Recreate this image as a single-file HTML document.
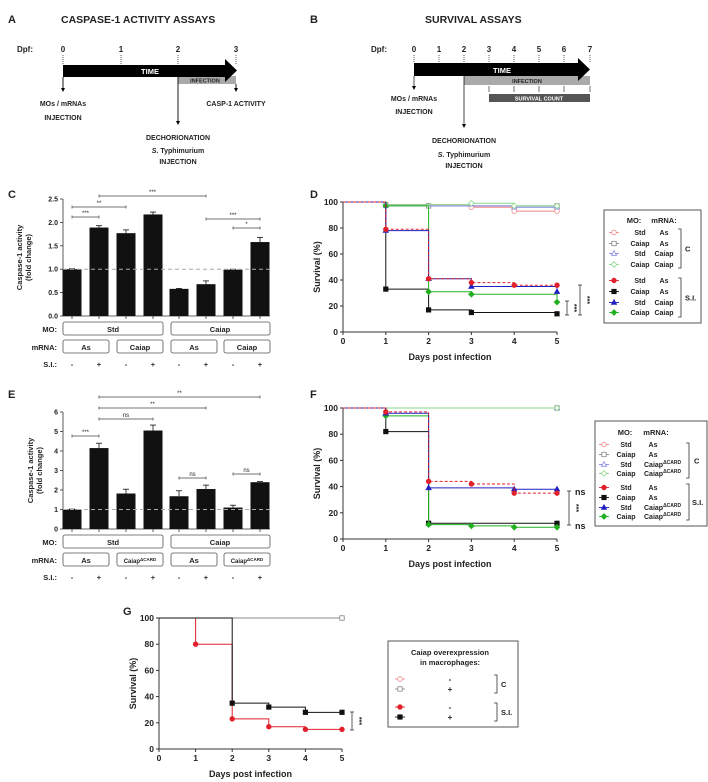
<!DOCTYPE html>
<html><head><meta charset="utf-8"><style>
body{margin:0;background:#fff;}
svg{display:block;font-family:"Liberation Sans",Arial,sans-serif;}
text{fill:#222;}
</style></head><body>
<svg id="fig" width="708" height="782" viewBox="0 0 708 782" xmlns="http://www.w3.org/2000/svg">
<g font-weight="bold">
<text x="8" y="23" font-size="11">A</text>
<text x="61" y="23" font-size="10.5">CASPASE-1 ACTIVITY ASSAYS</text>
<text x="17" y="52" font-size="8">Dpf:</text>
<g font-size="8" text-anchor="middle">
<text x="63" y="52">0</text><text x="121" y="52">1</text><text x="178" y="52">2</text><text x="236" y="52">3</text></g>
<g stroke="#333" stroke-dasharray="1,1" stroke-width="0.8"><line x1="63" y1="55" x2="63" y2="65"/><line x1="121" y1="55" x2="121" y2="65"/><line x1="178" y1="55" x2="178" y2="65"/><line x1="236" y1="55" x2="236" y2="65"/></g>
<rect x="178" y="76" width="58" height="8" fill="#aaa"/>
<text x="205" y="82.5" font-size="5.5" text-anchor="middle">INFECTION</text>
<polygon points="63,65 225,65 225,59 237,70.5 225,82 225,77 63,77" fill="#000"/>
<text x="150" y="74" font-size="7.5" text-anchor="middle" style="fill:#fff">TIME</text>
<g stroke="#000" stroke-width="0.9"><line x1="63" y1="77" x2="63" y2="90"/><line x1="178" y1="77" x2="178" y2="122"/><line x1="236" y1="84" x2="236" y2="90"/></g>
<g fill="#000"><polygon points="61,88 65,88 63,92"/><polygon points="176,121 180,121 178,125"/><polygon points="234,88 238,88 236,92"/></g>
<g font-size="7" text-anchor="middle">
<text x="63" y="106">MOs / mRNAs</text><text x="63" y="120">INJECTION</text>
<text x="236" y="106">CASP-1 ACTIVITY</text>
<text x="178" y="140">DECHORIONATION</text><text x="178" y="153"><tspan font-style="italic">S.</tspan> Typhimurium</text><text x="178" y="164">INJECTION</text></g>
</g>
<g font-weight="bold">
<text x="310" y="23" font-size="11">B</text>
<text x="425" y="23" font-size="10.5">SURVIVAL  ASSAYS</text>
<text x="371" y="52" font-size="8">Dpf:</text>
<g font-size="8" text-anchor="middle">
<text x="414" y="52">0</text><text x="439" y="52">1</text><text x="464" y="52">2</text><text x="489" y="52">3</text><text x="514" y="52">4</text><text x="539" y="52">5</text><text x="564" y="52">6</text><text x="590" y="52">7</text></g>
<g stroke="#333" stroke-dasharray="1,1" stroke-width="0.8"><line x1="414" y1="55" x2="414" y2="63"/><line x1="439" y1="55" x2="439" y2="63"/><line x1="464" y1="55" x2="464" y2="63"/><line x1="489" y1="55" x2="489" y2="63"/><line x1="514" y1="55" x2="514" y2="63"/><line x1="539" y1="55" x2="539" y2="63"/><line x1="564" y1="55" x2="564" y2="63"/><line x1="590" y1="55" x2="590" y2="63"/></g>
<rect x="464" y="76" width="126" height="9" fill="#aaa"/>
<text x="527" y="83" font-size="5.5" text-anchor="middle">INFECTION</text>
<polygon points="414,63 578,63 578,58 590,69.5 578,81 578,76 414,76" fill="#000"/>
<text x="502" y="73" font-size="7.5" text-anchor="middle" style="fill:#fff">TIME</text>
<rect x="489" y="94" width="101" height="8" fill="#555"/>
<text x="539" y="100.5" font-size="5.5" text-anchor="middle" style="fill:#fff">SURVIVAL  COUNT</text>
<g stroke="#333" stroke-width="0.7"><line x1="489" y1="86" x2="489" y2="92"/><line x1="514" y1="86" x2="514" y2="92"/><line x1="539" y1="86" x2="539" y2="92"/><line x1="564" y1="86" x2="564" y2="92"/><line x1="590" y1="86" x2="590" y2="92"/>
<line x1="414" y1="76" x2="414" y2="87" stroke="#000"/><line x1="464" y1="76" x2="464" y2="125" stroke="#000"/></g>
<g fill="#000"><polygon points="412,86 416,86 414,90"/><polygon points="462,124 466,124 464,128"/></g>
<g font-size="7" text-anchor="middle">
<text x="414" y="101">MOs / mRNAs</text><text x="414" y="114">INJECTION</text>
<text x="464" y="143">DECHORIONATION</text><text x="464" y="157"><tspan font-style="italic">S.</tspan> Typhimurium</text><text x="464" y="168">INJECTION</text></g>
</g>
<g id="dyn"></g>
</svg>
<script>
var cCategories = ["Std As -", "Std As +", "Std Caiap -", "Std Caiap +", "Caiap As -", "Caiap As +", "Caiap Caiap -", "Caiap Caiap +"];
var cValues = [1.0, 1.89, 1.77, 2.17, 0.58, 0.68, 0.99, 1.58];
var cErrors = [0.01, 0.04, 0.07, 0.05, 0.01, 0.07, 0.01, 0.1];
var cTicks = ["0.0", "0.5", "1.0", "1.5", "2.0", "2.5"];
var cTickValues = [0, 0.5, 1, 1.5, 2, 2.5];
var cMRNA = ["As", "Caiap", "As", "Caiap"];
var eValues = [1.0, 4.15, 1.82, 5.05, 1.68, 2.05, 1.1, 2.4];
var eErrors = [0.02, 0.25, 0.22, 0.28, 0.28, 0.2, 0.12, 0.03];
var eTicks = ["0", "1", "2", "3", "4", "5", "6"];
var eTickValues = [0, 1, 2, 3, 4, 5, 6];
var survDays = [0, 1, 2, 3, 4, 5];
var survTicks = ["0", "20", "40", "60", "80", "100"];
var survTickValues = [0, 20, 40, 60, 80, 100];
var dStdAsC = [100, 98, 97, 96, 93, 93];
var dCaiapAsC = [100, 98, 97, 97, 97, 97];
var dStdCaiapC = [100, 97, 97, 97, 96, 96];
var dCaiapCaiapC = [100, 98, 98, 99, 97, 97];
var dStdAsSI = [100, 79, 41, 38, 36, 36];
var dCaiapAsSI = [100, 33, 17, 15, 15, 14];
var dStdCaiapSI = [100, 78, 41, 35, 35, 31];
var dCaiapCaiapSI = [100, 97, 31, 29, 29, 23];
var fStdAsC = [100, 100, 100, 100, 100, 100];
var fCaiapAsC = [100, 100, 100, 100, 100, 100];
var fStdDcC = [100, 100, 100, 100, 100, 100];
var fCaiapDcC = [100, 100, 100, 100, 100, 100];
var fStdAsSI = [100, 97, 44, 42, 35, 35];
var fCaiapAsSI = [100, 82, 12, 12, 12, 12];
var fStdDcSI = [100, 96, 39, 39, 38, 38];
var fCaiapDcSI = [100, 94, 11, 10, 9, 9];
var gMinusC = [100, 100, 100, 100, 100, 100];
var gPlusC = [100, 100, 100, 100, 100, 100];
var gMinusSI = [100, 80, 23, 17, 15, 15];
var gPlusSI = [100, 100, 35, 32, 28, 28];

var NS = "http://www.w3.org/2000/svg";
var root = document.getElementById("dyn");
function mk(tag, attrs, name, parent) {
  var e = document.createElementNS(NS, tag);
  for (var k in attrs) e.setAttribute(k, attrs[k]);
  
  
  (parent || root).appendChild(e);
  return e;
}
function txt(x, y, s, size, name, extra) {
  var a = {x: x, y: y, "font-size": size, "font-weight": "bold"};
  for (var k in (extra || {})) a[k] = extra[k];
  var t = mk("text", a, name);
  t.textContent = s;
  return t;
}
var barX = [72, 99, 126, 153, 179, 206, 233, 260];

function barChart(opt) {
  var y0 = opt.y0, yTop = opt.yTop, vmax = opt.vmax;
  function yS(v) { return y0 - (v / vmax) * (y0 - yTop); }
  mk("line", {x1: 63, y1: yTop, x2: 63, y2: y0, stroke: "#333", "stroke-width": 0.8}, opt.p + "-y-axis");
  mk("line", {x1: 63, y1: y0, x2: 270, y2: y0, stroke: "#333", "stroke-width": 0.8}, opt.p + "-x-axis");
  for (var i = 0; i < opt.tickValues.length; i++) {
    var ty = yS(opt.tickValues[i]);
    mk("line", {x1: 60, y1: ty, x2: 63, y2: ty, stroke: "#333", "stroke-width": 0.8}, opt.p + "-y-tick");
    txt(58, ty + 2.5, opt.ticks[i], 7, opt.p + "-y-tick-label", {"text-anchor": "end"});
  }
  for (var j = 0; j < opt.values.length; j++) {
    var v = opt.values[j], x = barX[j];
    mk("rect", {x: x - 9.5, y: yS(v), width: 19, height: y0 - yS(v), fill: "#111"}, opt.p + "-bar-" + (j + 1));
    var ye = yS(v + opt.errors[j]);
    mk("line", {x1: x, y1: ye, x2: x, y2: yS(v), stroke: "#111", "stroke-width": 0.8}, opt.p + "-error-bar");
    mk("line", {x1: x - 3, y1: ye, x2: x + 3, y2: ye, stroke: "#111", "stroke-width": 0.8}, opt.p + "-error-cap");
    mk("line", {x1: x, y1: y0, x2: x, y2: y0 + 3, stroke: "#333", "stroke-width": 0.8}, opt.p + "-x-tick");
  }
  mk("line", {x1: 63, y1: yS(1), x2: 270, y2: yS(1), stroke: "#aaa", "stroke-width": 1, "stroke-dasharray": "4,3"}, opt.p + "-baseline-dashed");
  var r = opt.rowY;
  txt(57, r + 10, "MO:", 7.5, opt.p + "-mo-label", {"text-anchor": "end"});
  txt(57, r + 28, "mRNA:", 7.5, opt.p + "-mrna-label", {"text-anchor": "end"});
  txt(57, r + 45, "S.I.:", 7.5, opt.p + "-si-label", {"text-anchor": "end"});
  mk("rect", {x: 63, y: r, width: 100, height: 13, rx: 2, fill: "#fff", stroke: "#555", "stroke-width": 0.8}, opt.p + "-mo-std-box");
  txt(113, r + 10, "Std", 7.5, opt.p + "-mo-std-text", {"text-anchor": "middle"});
  mk("rect", {x: 171, y: r, width: 99, height: 13, rx: 2, fill: "#fff", stroke: "#555", "stroke-width": 0.8}, opt.p + "-mo-caiap-box");
  txt(220, r + 10, "Caiap", 7.5, opt.p + "-mo-caiap-text", {"text-anchor": "middle"});
  var bx = [63, 117, 171, 224];
  for (var m = 0; m < 4; m++) {
    mk("rect", {x: bx[m], y: r + 18, width: 46, height: 13, rx: 2, fill: "#fff", stroke: "#555", "stroke-width": 0.8}, opt.p + "-mrna-box");
    var t = txt(bx[m] + 23, r + 28, opt.mrna[m], opt.mrna[m] === "As" ? 7.5 : (opt.delta ? 6 : 7.5), opt.p + "-mrna-text", {"text-anchor": "middle"});
    if (opt.delta && opt.mrna[m] !== "As") {
      var s = document.createElementNS(NS, "tspan");
      s.setAttribute("baseline-shift", "super"); s.setAttribute("font-size", "4.5");
      s.textContent = "\u0394CARD"; t.appendChild(s);
    }
  }
  for (var q = 0; q < 8; q++) txt(barX[q], r + 45, q % 2 ? "+" : "-", 7.5, opt.p + "-si-sign", {"text-anchor": "middle"});
  for (var b = 0; b < opt.sig.length; b++) {
    var sg = opt.sig[b], x1 = barX[sg[0]], x2 = barX[sg[1]];
    mk("line", {x1: x1, y1: sg[2], x2: x2, y2: sg[2], stroke: "#444", "stroke-width": 0.7}, opt.p + "-sig-bar");
    mk("line", {x1: x1, y1: sg[2] - 1.5, x2: x1, y2: sg[2] + 1.5, stroke: "#444", "stroke-width": 0.7}, opt.p + "-sig-end");
    mk("line", {x1: x2, y1: sg[2] - 1.5, x2: x2, y2: sg[2] + 1.5, stroke: "#444", "stroke-width": 0.7}, opt.p + "-sig-end");
    txt((x1 + x2) / 2, sg[2] - 2, sg[3], 6, opt.p + "-sig-label", {"text-anchor": "middle", "font-weight": "normal"});
  }
  var yl = mk("text", {x: 0, y: 0, "font-size": 7.5, "font-weight": "bold", "text-anchor": "middle", transform: "translate(" + opt.labX + "," + ((y0 + yTop) / 2) + ") rotate(-90)"}, opt.p + "-y-axis-title");
  var t1 = document.createElementNS(NS, "tspan"); t1.setAttribute("x", 0); t1.setAttribute("dy", 0); t1.textContent = "Caspase-1 activity";
  var t2 = document.createElementNS(NS, "tspan"); t2.setAttribute("x", 0); t2.setAttribute("dy", 9); t2.textContent = "(fold change)";
  yl.appendChild(t1); yl.appendChild(t2);
}
txt(8, 198, "C", 11, "panel-c-label");
barChart({p: "panel-c", y0: 316, yTop: 199, vmax: 2.5, values: cValues, errors: cErrors, ticks: cTicks, tickValues: cTickValues, rowY: 322, mrna: cMRNA, delta: false, labX: 22,
  sig: [[1, 5, 196, "***"], [0, 2, 207, "**"], [0, 1, 217, "***"], [5, 7, 219, "***"], [6, 7, 228, "*"]]});
txt(8, 398, "E", 11, "panel-e-label");
barChart({p: "panel-e", y0: 529, yTop: 412, vmax: 6, values: eValues, errors: eErrors, ticks: eTicks, tickValues: eTickValues, rowY: 535, mrna: ["As", "Caiap", "As", "Caiap"], delta: true, labX: 33,
  sig: [[1, 7, 397, "**"], [1, 5, 408, "**"], [1, 3, 419, "ns"], [0, 1, 436, "***"], [4, 5, 478, "ns"], [6, 7, 474, "ns"]]});

function survChart(opt) {
  var x0 = opt.x0, dx = opt.dx, y0 = opt.y0, yTop = opt.yTop;
  function xS(d) { return x0 + d * dx; }
  function yS(v) { return y0 - v / 100 * (y0 - yTop); }
  mk("line", {x1: x0, y1: yTop, x2: x0, y2: y0, stroke: "#333", "stroke-width": 1}, opt.p + "-y-axis");
  mk("line", {x1: x0, y1: y0, x2: xS(5), y2: y0, stroke: "#333", "stroke-width": 1}, opt.p + "-x-axis");
  for (var i = 0; i < survTickValues.length; i++) {
    var ty = yS(survTickValues[i]);
    mk("line", {x1: x0 - 3, y1: ty, x2: x0, y2: ty, stroke: "#333"}, opt.p + "-y-tick");
    txt(x0 - 5, ty + 3, survTicks[i], 8.5, opt.p + "-y-tick-label", {"text-anchor": "end"});
  }
  for (var d = 0; d < survDays.length; d++) {
    var tx = xS(survDays[d]);
    mk("line", {x1: tx, y1: y0, x2: tx, y2: y0 + 3, stroke: "#333"}, opt.p + "-x-tick");
    txt(tx, y0 + 12, String(survDays[d]), 8.5, opt.p + "-x-tick-label", {"text-anchor": "middle"});
  }
  txt(xS(2.5), y0 + 28, "Days post infection", 9, opt.p + "-x-axis-title", {"text-anchor": "middle"});
  txt(0, 0, "Survival (%)", 9, opt.p + "-y-axis-title", {"text-anchor": "middle", transform: "translate(" + (x0 - 23) + "," + ((y0 + yTop) / 2) + ") rotate(-90)"});
  for (var s = 0; s < opt.series.length; s++) {
    var se = opt.series[s], v = se.v;
    var dstr = "M" + xS(0) + "," + yS(v[0]);
    for (var k = 1; k < v.length; k++) dstr += " H" + xS(k) + " V" + yS(v[k]);
    var a = {d: dstr, fill: "none", stroke: se.c, "stroke-width": 1};
    if (se.dash) a["stroke-dasharray"] = "3,2";
    mk("path", a, opt.p + "-line-" + se.n);
    for (var k2 = 1; k2 < v.length; k2++) {
      if (v[k2] === v[k2 - 1] && k2 !== v.length - 1) continue;
      marker(xS(k2), yS(v[k2]), se.m, se.c, se.f, opt.p + "-point-" + se.n);
    }
  }
}
function marker(x, y, m, c, filled, name) {
  var f = filled ? c : "#fff";
  if (m === "c") mk("circle", {cx: x, cy: y, r: 2.3, fill: f, stroke: c, "stroke-width": 0.8}, name);
  else if (m === "s") mk("rect", {x: x - 2.2, y: y - 2.2, width: 4.4, height: 4.4, fill: f, stroke: c, "stroke-width": 0.8}, name);
  else if (m === "t") mk("polygon", {points: (x) + "," + (y - 2.8) + " " + (x + 2.6) + "," + (y + 1.8) + " " + (x - 2.6) + "," + (y + 1.8), fill: f, stroke: c, "stroke-width": 0.8}, name);
  else mk("polygon", {points: x + "," + (y - 2.8) + " " + (x + 2.8) + "," + y + " " + x + "," + (y + 2.8) + " " + (x - 2.8) + "," + y, fill: f, stroke: c, "stroke-width": 0.8}, name);
}
var LR = "#f08a8a", GR = "#888", LB = "#8a8ae6", LG = "#8ad88a", RD = "#e0202a", BK = "#111", BL = "#2020c0", GN = "#22b022";
function legend(p, x, y, w, h, rows, hdr) {
  mk("rect", {x: x, y: y, width: w, height: h, fill: "#fff", stroke: "#555", "stroke-width": 1}, p + "-legend-box");
  for (var i = 0; i < hdr.length; i++) txt(hdr[i][0], hdr[i][1], hdr[i][2], 7.5, p + "-legend-header", {"text-anchor": "middle"});
  for (var r = 0; r < rows.length; r++) {
    var R = rows[r];
    mk("line", {x1: R.x - 5, y1: R.y - 2.5, x2: R.x + 5, y2: R.y - 2.5, stroke: R.c, "stroke-width": 0.9}, p + "-legend-line");
    marker(R.x, R.y - 2.5, R.m, R.c, R.f, p + "-legend-marker");
    txt(R.tx1, R.y, R.t1, 7, p + "-legend-mo", {"text-anchor": "middle"});
    var t = txt(R.tx2, R.y, R.t2, 7, p + "-legend-mrna", {"text-anchor": R.anchor || "middle"});
    if (R.sup) { var s = document.createElementNS(NS, "tspan"); s.setAttribute("baseline-shift", "super"); s.setAttribute("font-size", "5"); s.textContent = "\u0394CARD"; t.appendChild(s); }
  }
}
function bracket(p, x, y1, y2, label, lx) {
  mk("path", {d: "M" + (x - 3) + "," + y1 + " H" + x + " V" + y2 + " H" + (x - 3), fill: "none", stroke: "#333", "stroke-width": 0.8}, p + "-legend-bracket");
  txt(lx, (y1 + y2) / 2 + 3, label, 7.5, p + "-legend-group-label");
}
function sigV(p, x, y1, y2, label) {
  mk("line", {x1: x, y1: y1, x2: x, y2: y2, stroke: "#333", "stroke-width": 0.8}, p + "-sig-bracket");
  mk("line", {x1: x - 2, y1: y1, x2: x + 2, y2: y1, stroke: "#333", "stroke-width": 0.8}, p + "-sig-cap");
  mk("line", {x1: x - 2, y1: y2, x2: x + 2, y2: y2, stroke: "#333", "stroke-width": 0.8}, p + "-sig-cap");
  if (label) txt(0, 0, label, 7, p + "-sig-label", {"text-anchor": "middle", transform: "translate(" + (x + 5) + "," + ((y1 + y2) / 2) + ") rotate(90)"});
}

txt(310, 198, "D", 11, "panel-d-label");
survChart({p: "panel-d", x0: 343, dx: 42.8, y0: 332, yTop: 202, series: [
  {n: "std-as-c", v: dStdAsC, c: LR, m: "c", f: false},
  {n: "caiap-as-c", v: dCaiapAsC, c: GR, m: "s", f: false},
  {n: "std-caiap-c", v: dStdCaiapC, c: LB, m: "t", f: false},
  {n: "caiap-caiap-c", v: dCaiapCaiapC, c: LG, m: "d", f: false},
  {n: "caiap-as-si", v: dCaiapAsSI, c: BK, m: "s", f: true},
  {n: "caiap-caiap-si", v: dCaiapCaiapSI, c: GN, m: "d", f: true},
  {n: "std-caiap-si", v: dStdCaiapSI, c: BL, m: "t", f: true},
  {n: "std-as-si", v: dStdAsSI, c: RD, m: "c", f: true, dash: true}]});
sigV("panel-d", 567, 301, 315, "***");
sigV("panel-d", 580, 285, 315, "***");
legend("panel-d", 604, 210, 97, 113, [
  {x: 614, y: 235, c: LR, m: "c", f: false, tx1: 640, t1: "Std", tx2: 664, t2: "As"},
  {x: 614, y: 246, c: GR, m: "s", f: false, tx1: 640, t1: "Caiap", tx2: 664, t2: "As"},
  {x: 614, y: 256, c: LB, m: "t", f: false, tx1: 640, t1: "Std", tx2: 664, t2: "Caiap"},
  {x: 614, y: 267, c: LG, m: "d", f: false, tx1: 640, t1: "Caiap", tx2: 664, t2: "Caiap"},
  {x: 614, y: 283, c: RD, m: "c", f: true, tx1: 640, t1: "Std", tx2: 664, t2: "As"},
  {x: 614, y: 294, c: BK, m: "s", f: true, tx1: 640, t1: "Caiap", tx2: 664, t2: "As"},
  {x: 614, y: 305, c: BL, m: "t", f: true, tx1: 640, t1: "Std", tx2: 664, t2: "Caiap"},
  {x: 614, y: 315, c: GN, m: "d", f: true, tx1: 640, t1: "Caiap", tx2: 664, t2: "Caiap"}],
  [[634, 223, "MO:"], [664, 223, "mRNA:"]]);
bracket("panel-d", 681, 229, 268, "C", 685);
bracket("panel-d", 681, 278, 317, "S.I.", 685);

txt(310, 398, "F", 11, "panel-f-label");
survChart({p: "panel-f", x0: 343, dx: 42.8, y0: 539, yTop: 408, series: [
  {n: "std-as-c", v: fStdAsC, c: LR, m: "c", f: false},
  {n: "caiap-as-c", v: fCaiapAsC, c: GR, m: "s", f: false},
  {n: "std-dcard-c", v: fStdDcC, c: LB, m: "t", f: false},
  {n: "caiap-dcard-c", v: fCaiapDcC, c: LG, m: "d", f: false},
  {n: "caiap-as-si", v: fCaiapAsSI, c: BK, m: "s", f: true},
  {n: "caiap-dcard-si", v: fCaiapDcSI, c: GN, m: "d", f: true},
  {n: "std-dcard-si", v: fStdDcSI, c: BL, m: "t", f: true},
  {n: "std-as-si", v: fStdAsSI, c: RD, m: "c", f: true, dash: true}]});
sigV("panel-f", 569, 491, 525, "***");
txt(575, 495, "ns", 9, "panel-f-sig-ns-top");
txt(575, 529, "ns", 9, "panel-f-sig-ns-bottom");
legend("panel-f", 595, 421, 112, 105, [
  {x: 604, y: 447, c: LR, m: "c", f: false, tx1: 626, t1: "Std", tx2: 653, t2: "As"},
  {x: 604, y: 457, c: GR, m: "s", f: false, tx1: 626, t1: "Caiap", tx2: 653, t2: "As"},
  {x: 604, y: 467, c: LB, m: "t", f: false, tx1: 626, t1: "Std", tx2: 644, t2: "Caiap", sup: true, anchor: "start"},
  {x: 604, y: 476, c: LG, m: "d", f: false, tx1: 626, t1: "Caiap", tx2: 644, t2: "Caiap", sup: true, anchor: "start"},
  {x: 604, y: 490, c: RD, m: "c", f: true, tx1: 626, t1: "Std", tx2: 653, t2: "As"},
  {x: 604, y: 500, c: BK, m: "s", f: true, tx1: 626, t1: "Caiap", tx2: 653, t2: "As"},
  {x: 604, y: 510, c: BL, m: "t", f: true, tx1: 626, t1: "Std", tx2: 644, t2: "Caiap", sup: true, anchor: "start"},
  {x: 604, y: 519, c: GN, m: "d", f: true, tx1: 626, t1: "Caiap", tx2: 644, t2: "Caiap", sup: true, anchor: "start"}],
  [[625, 435, "MO:"], [656, 435, "mRNA:"]]);
bracket("panel-f", 689, 443, 478, "C", 694);
bracket("panel-f", 689, 484, 520, "S.I.", 692);

txt(123, 615, "G", 11, "panel-g-label");
survChart({p: "panel-g", x0: 159, dx: 36.6, y0: 749, yTop: 618, series: [
  {n: "minus-c", v: gMinusC, c: LR, m: "c", f: false},
  {n: "plus-c", v: gPlusC, c: GR, m: "s", f: false},
  {n: "minus-si", v: gMinusSI, c: RD, m: "c", f: true},
  {n: "plus-si", v: gPlusSI, c: BK, m: "s", f: true}]});
sigV("panel-g", 352, 712, 730, "***");
mk("rect", {x: 388, y: 641, width: 130, height: 86, fill: "#fff", stroke: "#555", "stroke-width": 1}, "panel-g-legend-box");
txt(450, 655, "Caiap overexpression", 7.5, "panel-g-legend-title", {"text-anchor": "middle"});
txt(450, 665, "in macrophages:", 7.5, "panel-g-legend-title", {"text-anchor": "middle"});
var gRows = [[679, LR, "c", false, "-"], [689, GR, "s", false, "+"], [707, RD, "c", true, "-"], [717, BK, "s", true, "+"]];
for (var gi = 0; gi < gRows.length; gi++) {
  var gr = gRows[gi];
  mk("line", {x1: 395, y1: gr[0], x2: 405, y2: gr[0], stroke: gr[1], "stroke-width": 0.9}, "panel-g-legend-line");
  marker(400, gr[0], gr[2], gr[1], gr[3], "panel-g-legend-marker");
  txt(450, gr[0] + 3, gr[4], 8, "panel-g-legend-sign", {"text-anchor": "middle"});
}
bracket("panel-g", 497, 675, 693, "C", 501);
bracket("panel-g", 497, 703, 721, "S.I.", 501);
</script>
</body></html>
